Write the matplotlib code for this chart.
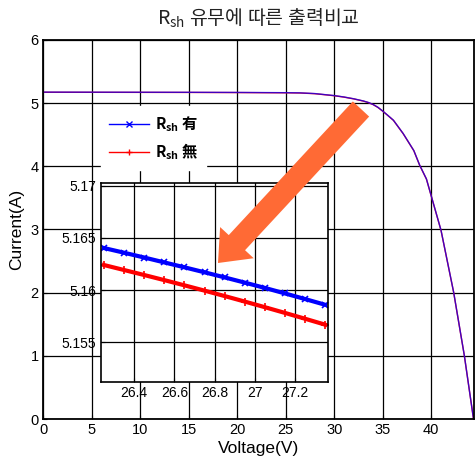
import numpy as np
import matplotlib
matplotlib.use("Agg")
import matplotlib.pyplot as plt
from matplotlib.patches import FancyArrowPatch

plt.rcParams['font.family'] = ['Liberation Sans', 'Noto Sans CJK KR', 'DejaVu Sans']
plt.rcParams['mathtext.default'] = 'regular'
KR = 'Noto Sans CJK KR'

# I-V curve, full range
volt = [0, 5, 10, 15, 20, 25, 26.5, 28, 30, 31, 32, 33, 33.5, 34, 34.5, 35, 35.5,
        36.1, 37.1, 38.2, 38.8, 39.5, 40.0, 41.0, 42.3, 43.4, 44.35]
curr_with = [5.175, 5.174, 5.173, 5.172, 5.170, 5.166, 5.163, 5.152, 5.12, 5.098, 5.07,
             5.035, 5.012, 4.98, 4.935, 4.875, 4.81, 4.73, 4.52, 4.25, 4.02, 3.80, 3.53,
             2.99, 2.01, 1.01, 0.0]
curr_without = [5.173, 5.172, 5.171, 5.170, 5.168, 5.164, 5.161, 5.150, 5.118, 5.096, 5.068,
                5.033, 5.010, 4.978, 4.933, 4.873, 4.808, 4.728, 4.518, 4.248, 4.018, 3.798,
                3.528, 2.988, 2.008, 1.008, 0.0]

# zoomed region
volt_zoom = [26.25, 26.35, 26.45, 26.55, 26.65, 26.75, 26.85, 26.95, 27.05, 27.15, 27.25, 27.35]
zoom_with = [5.16403, 5.16358, 5.16312, 5.16265, 5.16218, 5.16170, 5.16121, 5.16071,
             5.16020, 5.15967, 5.15913, 5.15858]
zoom_without = [5.16240, 5.16192, 5.16144, 5.16095, 5.16045, 5.15994, 5.15942, 5.15889,
                5.15835, 5.15780, 5.15724, 5.15667]

labels = [r'$R_{sh}$ 有', r'$R_{sh}$ 無']
x_ticks_zoom = [26.4, 26.6, 26.8, 27.0, 27.2]
x_ticklabels_zoom = ['26.4', '26.6', '26.8', '27', '27.2']
y_ticks_zoom = [5.155, 5.16, 5.165, 5.17]
y_ticklabels_zoom = ['5.155', '5.16', '5.165', '5.17']

fig = plt.figure(figsize=(4.75, 4.61), dpi=100)
ax = fig.add_axes([43 / 475, 42 / 461, 431 / 475, 379 / 461])

ax.plot(volt, curr_without, color='red', lw=1.0)
ax.plot(volt, curr_with, color='blue', lw=1.0, alpha=0.75)
# legend proxies
h1, = ax.plot([], [], color='blue', marker='x', ms=4, mew=1, lw=1)
h2, = ax.plot([], [], color='red', marker='+', ms=5, mew=1, lw=1)

ax.set_xlim(0, 44.4)
ax.set_ylim(0, 6)
ax.set_xticks(range(0, 45, 5))
ax.set_yticks(range(0, 7))
ax.grid(True, color='black', lw=0.9)
ax.tick_params(direction='in', labelsize=10.5, pad=3, length=3)
for sp in ax.spines.values():
    sp.set_linewidth(1.3)
ax.set_xlabel('Voltage(V)', fontsize=12.5, labelpad=3)
ax.set_ylabel('Current(A)', fontsize=12.5, labelpad=5)
ax.set_title(r'$R_{sh}$ 유무에 따른 출력비교', fontsize=14, pad=11,
             color='#222222', family=KR)

leg = ax.legend([h1, h2], labels, loc='upper left', bbox_to_anchor=(0.118, 0.845),
                frameon=True, fancybox=False, edgecolor='white', framealpha=1,
                handlelength=2.6, handletextpad=0.4, borderpad=0.5, labelspacing=0.5,
                prop={'size': 11, 'weight': 'bold', 'family': KR})

axin = fig.add_axes([100.7 / 475, (461 - 381.7) / 461, 227 / 475, 199 / 461])
axin.plot(volt_zoom, zoom_with, color='blue', lw=3.0, marker='x', ms=4.5, mew=1.2)
axin.plot(volt_zoom, zoom_without, color='red', lw=3.0, marker='+', ms=5.5, mew=1.2)
axin.set_xlim(26.234, 27.362)
axin.set_ylim(5.1512, 5.1703)
axin.set_xticks(x_ticks_zoom)
axin.set_xticklabels(x_ticklabels_zoom)
axin.set_yticks(y_ticks_zoom)
axin.set_yticklabels(y_ticklabels_zoom)
axin.grid(True, color='black', lw=0.9)
axin.tick_params(direction='in', labelsize=10, pad=3, length=3)
for sp in axin.spines.values():
    sp.set_linewidth(1.2)

arrow = FancyArrowPatch((361 / 475, 1 - 109 / 461), (218 / 475, 1 - 263 / 461),
                        transform=fig.transFigure,
                        arrowstyle='simple,head_width=3.3,head_length=2.0,tail_width=1.6',
                        mutation_scale=10, shrinkA=0, shrinkB=0,
                        color='#FF6A35', lw=0, zorder=10)
fig.add_artist(arrow)

fig.savefig('out.png', dpi=100)
